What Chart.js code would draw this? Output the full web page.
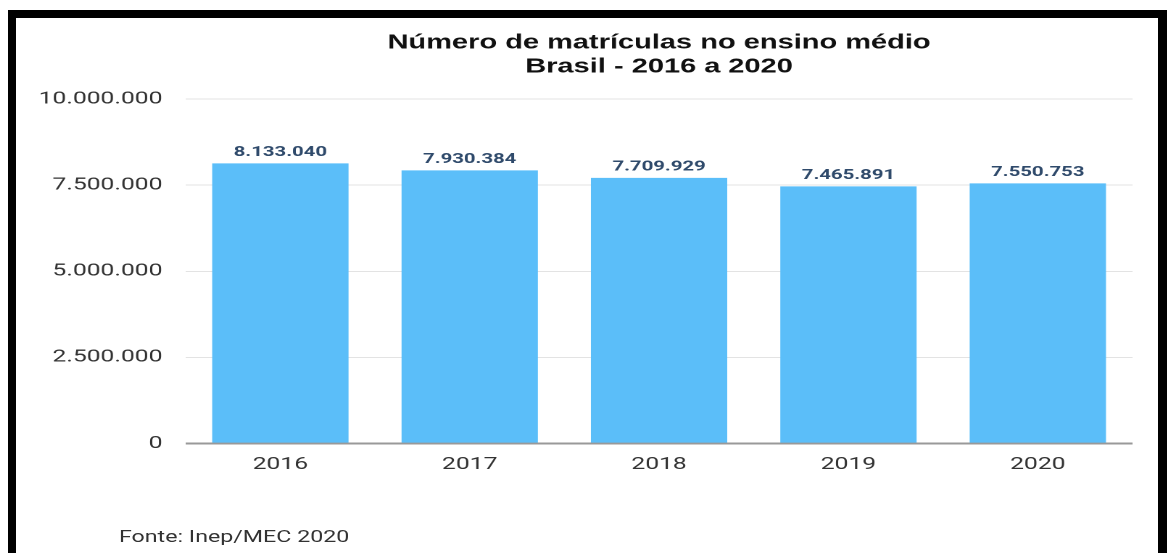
<!DOCTYPE html>
<html>
<head>
<meta charset="utf-8">
<script src="https://cdn.jsdelivr.net/npm/chart.js@4/dist/chart.umd.min.js"></script>
<style>
  html, body { margin: 0; padding: 0; background: #fff; width: 1167px; height: 553px; overflow: hidden; }
  #frame { position: absolute; left: 8px; top: 10px; width: 1142px; height: 560px;
           border-top: 8px solid #000; border-left: 8px solid #000; border-right: 9px solid #000;
           background: #fff; }
  #wrap { position: absolute; left: 0; top: 0; width: 788px; height: 535px;
          transform: scaleX(1.45); transform-origin: 0 0; }
  #fonte { position: absolute; left: 71px; top: 509px; font: 16px Roboto, sans-serif; color: #333; line-height: 20px; white-space: nowrap; }
</style>
</head>
<body>
<div id="frame">
  <div id="wrap">
    <canvas id="c" width="788" height="535"></canvas>
    <div id="fonte">Fonte: Inep/MEC 2020</div>
  </div>
</div>
<script>
const categories = ["2016", "2017", "2018", "2019", "2020"];
const matriculas = [8133040, 7930384, 7709929, 7465891, 7550753];
const titleLines = ["Número de matrículas no ensino médio", "Brasil - 2016 a 2020"];
const yTickMin = 0;
const yTickMax = 10000000;
const yTickStep = 2500000;

function fmt(v) {
  return String(Math.round(v)).replace(/\B(?=(\d{3})+(?!\d))/g, ".");
}

const dataLabels = {
  id: "dataLabels",
  afterDatasetsDraw(chart) {
    const ctx = chart.ctx;
    const meta = chart.getDatasetMeta(0);
    ctx.save();
    ctx.font = "bold 14px Roboto, sans-serif";
    ctx.fillStyle = "#2f4a6b";
    ctx.textAlign = "center";
    ctx.textBaseline = "bottom";
    meta.data.forEach((bar, i) => {
      ctx.fillText(fmt(chart.data.datasets[0].data[i]), bar.x, bar.y - 4);
    });
    ctx.restore();
  }
};

new Chart(document.getElementById("c"), {
  type: "bar",
  data: {
    labels: categories,
    datasets: [{
      data: matriculas,
      backgroundColor: "#5BBEF9",
      borderWidth: 0,
      categoryPercentage: 1,
      barPercentage: 0.72
    }]
  },
  options: {
    responsive: false,
    animation: false,
    devicePixelRatio: 2,
    layout: { padding: { left: 0, right: 18, top: 0, bottom: 67 } },
    plugins: {
      legend: { display: false },
      tooltip: { enabled: false },
      title: {
        display: true,
        fullSize: false,
        text: titleLines,
        color: "#111",
        font: { family: "'Liberation Sans', Arial, sans-serif", size: 20, weight: "bold", lineHeight: 1.2 },
        padding: { top: 13, bottom: 20 }
      }
    },
    scales: {
      x: {
        grid: { display: false, drawTicks: false },
        border: { display: false },
        ticks: { color: "#333", padding: 11, font: { family: "Roboto, sans-serif", size: 17 } }
      },
      y: {
        min: yTickMin,
        max: yTickMax,
        afterFit(scale) { scale.width = 117; },
        grid: {
          drawTicks: false,
          color: (c) => c.tick && c.tick.value === 0 ? "#999" : "#e3e3e3",
          lineWidth: (c) => c.tick && c.tick.value === 0 ? 2 : 1
        },
        border: { display: false },
        ticks: {
          stepSize: yTickStep,
          color: "#333",
          padding: 16,
          font: { family: "Roboto, sans-serif", size: 17 },
          callback: (v) => fmt(v)
        }
      }
    }
  },
  plugins: [dataLabels]
});
</script>
</body>
</html>
